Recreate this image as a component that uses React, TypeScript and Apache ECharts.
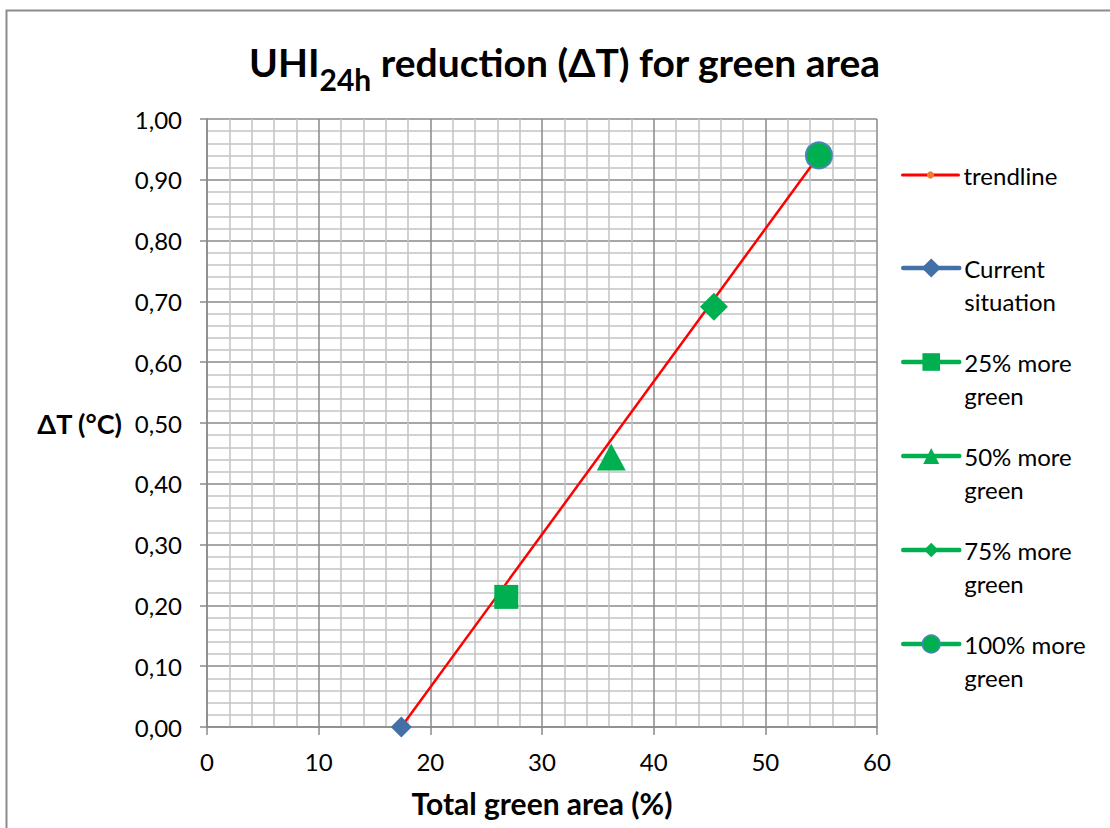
import React, { useEffect, useRef } from "react";
import * as echarts from "echarts";

// ---- data ----
const seriesNames = [
  "trendline",
  "Current situation",
  "25% more green",
  "50% more green",
  "75% more green",
  "100% more green",
];
const legendLabels = [
  "trendline",
  "\nCurrent\nsituation",
  "\n25% more\ngreen",
  "\n50% more\ngreen",
  "\n75% more\ngreen",
  "\n100% more\ngreen",
];
const trendX = [17.4, 54.8];
const trendY = [0.0, 0.94];
const scenarioX = [17.4, 26.8, 36.2, 45.4, 54.8];
const scenarioY = [0.0, 0.214, 0.444, 0.691, 0.94];
const xMin = 0;
const xMax = 60;
const xStep = 10;
const yMin = 0;
const yMax = 1;
const yStep = 0.1;

// ---- styles ----
const FONT = "Lato";
const GREEN = "#00B050";
const BLUE = "#4470A8";
const scenarioSymbols = ["diamond", "rect", "triangle", "diamond", "circle"];
const scenarioSizes = [[21, 21], 24, [29, 27], [28, 28], 26];
const scenarioColors = [BLUE, GREEN, GREEN, GREEN, GREEN];
const legendIconY = [177, 270, 364, 458, 552, 646];
const legendItemH = [9, 24, 22, 20, 18, 22];
const LH = 33;

export default function App() {
  const ref = useRef<HTMLDivElement>(null);
  useEffect(() => {
    if (!ref.current) return;
    const chart = echarts.init(ref.current, undefined, { renderer: "svg" });

    const series: any[] = [
      {
        name: seriesNames[0],
        type: "line",
        data: trendX.map((x, i) => [x, trendY[i]]),
        showSymbol: false,
        symbol: "circle",
        itemStyle: { color: "#ED7D31" },
        lineStyle: { color: "#FF0000", width: 2.5 },
        z: 3,
      },
    ];
    scenarioX.forEach((x, i) => {
      series.push({
        name: seriesNames[i + 1],
        type: "line",
        data: [[x, scenarioY[i]]],
        symbol: scenarioSymbols[i],
        symbolSize: scenarioSizes[i],
        itemStyle:
          i === 4
            ? { color: GREEN, borderColor: "#4A85B5", borderWidth: 2 }
            : { color: scenarioColors[i] },
        lineStyle: { color: scenarioColors[i], width: 4.5, cap: "round" },
        z: 4,
      });
    });

    const legends = seriesNames.map((name, i) => {
      const multi = i > 0;
      return {
        show: true,
        selectedMode: false,
        orient: "vertical",
        left: 901,
        top: multi ? legendIconY[i] - 1.5 * LH - 2 : legendIconY[i] - LH / 2 - 2,
        padding: 0,
        itemWidth: 56,
        itemHeight: legendItemH[i],
        data: [
          {
            name,
            lineStyle:
              i === 0
                ? { color: "#FF0000", width: 3, cap: "round" }
                : { color: scenarioColors[i - 1], width: 4.5, cap: "round" },
            itemStyle:
              i === 5
                ? { color: GREEN, borderColor: "#4A85B5", borderWidth: 1.5 }
                : i === 0
                ? { color: "#ED7D31" }
                : { color: scenarioColors[i - 1], borderWidth: 0 },
          },
        ],
        formatter: () => legendLabels[i],
        textStyle: {
          fontFamily: FONT,
          fontSize: 24,
          color: "#000",
          lineHeight: LH,
        },
      };
    });

    const gridLine = { show: true, lineStyle: { color: "#8A8A8A", width: 1.5 } };
    const minorLine = { show: true, lineStyle: { color: "#C3C3C3", width: 1.5 } };

    chart.setOption({
      animation: false,
      backgroundColor: "#fff",
      title: {
        left: 244,
        top: 25,
        text: "{a|UHI}{b|24h}{a| reduction (ΔT) for green area}",
        textStyle: {
          rich: {
            a: { fontFamily: FONT, fontWeight: "bold", fontSize: 39, color: "#000" },
            b: {
              fontFamily: FONT,
              fontWeight: "bold",
              fontSize: 30,
              color: "#000",
              padding: [34, 0, 0, 0],
            },
          },
        },
      },
      legend: legends,
      grid: { left: 207, right: 233, top: 119, bottom: 101, containLabel: false },
      xAxis: {
        type: "value",
        min: xMin,
        max: xMax,
        interval: xStep,
        name: "Total green area (%)",
        nameLocation: "middle",
        nameGap: 61,
        nameTextStyle: { fontFamily: FONT, fontWeight: "bold", fontSize: 30, color: "#000" },
        axisLine: { show: true, onZero: false, lineStyle: { color: "#8A8A8A", width: 1.5 } },
        axisTick: { show: true, inside: false, length: 8, lineStyle: { color: "#8A8A8A", width: 1.5 } },
        axisLabel: { fontFamily: FONT, fontSize: 24, color: "#000", margin: 22 },
        splitLine: gridLine,
        minorTick: { show: false, splitNumber: 5 },
        minorSplitLine: minorLine,
      },
      yAxis: {
        type: "value",
        min: yMin,
        max: yMax,
        interval: yStep,
        name: "ΔT (°C)",
        nameLocation: "middle",
        nameRotate: 0,
        nameGap: 85,
        nameTextStyle: { fontFamily: FONT, fontWeight: "bold", fontSize: 27, color: "#000", align: "right" },
        axisLine: { show: true, lineStyle: { color: "#8A8A8A", width: 1.5 } },
        axisTick: { show: true, inside: false, length: 7, lineStyle: { color: "#8A8A8A", width: 1.5 } },
        axisLabel: {
          fontFamily: FONT,
          fontSize: 24,
          color: "#000",
          margin: 25,
          formatter: (v: number) => v.toFixed(2).replace(".", ","),
        },
        splitLine: gridLine,
        minorTick: { show: false, splitNumber: 5 },
        minorSplitLine: minorLine,
      },
      graphic: [
        {
          type: "rect",
          left: 4,
          top: 8,
          shape: { x: 0, y: 0, width: 1200, height: 900 },
          style: { fill: "none", stroke: "#8C8C8C", lineWidth: 2 },
          silent: true,
        },
      ],
      series,
    });
    return () => chart.dispose();
  }, []);
  return (
    <div
      ref={ref}
      style={{ position: "absolute", left: 0, top: 0, width: 1110, height: 828 }}
    />
  );
}
